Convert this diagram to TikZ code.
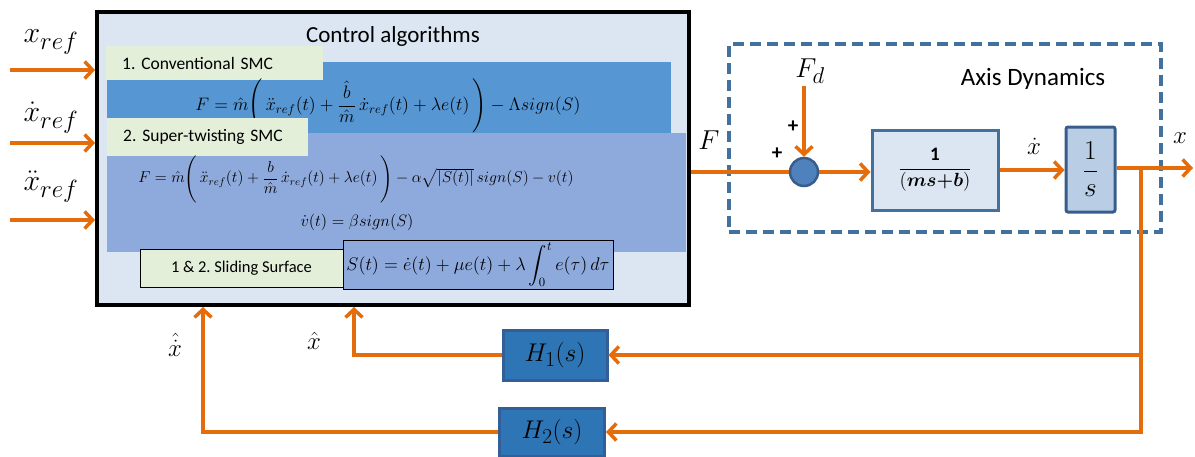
\documentclass[tikz,border=0pt]{standalone}
\usepackage{graphicx}
\usepackage{amsmath}
\usepackage{fontspec}
\setmainfont{Carlito}
\usetikzlibrary{arrows.meta}
\definecolor{bgblue}{RGB}{220,230,242}
\definecolor{bandA}{RGB}{86,150,211}
\definecolor{bandB}{RGB}{142,169,219}
\definecolor{lgreen}{RGB}{228,239,218}
\definecolor{orng}{RGB}{228,108,10}
\definecolor{dashB}{RGB}{65,113,156}
\definecolor{boxB}{RGB}{65,113,156}
\definecolor{iboxF}{RGB}{185,205,229}
\definecolor{iboxB}{RGB}{56,93,138}
\definecolor{hF}{RGB}{46,117,182}
\definecolor{hB}{RGB}{52,95,150}
\definecolor{cF}{RGB}{79,129,189}
\newcommand{\sbx}[2]{\scalebox{#1}{#2}}
\newcommand{\wbx}[2]{\resizebox{#1}{!}{#2}}
\begin{document}
\frenchspacing
\begin{tikzpicture}[x=1pt,y=-1pt,
  flow/.style={draw=orng, line width=3.5pt},
  arr/.style={flow, -{Straight Barb[length=8pt,width=17pt]}},
  band/.style={fill=#1, draw=none, inner sep=0pt},
  lbl/.style={fill=lgreen, anchor=west, align=left, inner xsep=16pt, inner ysep=0pt, font=\fontsize{17.5}{20}\selectfont},
  eq/.style={font=\fontsize{14.4}{17}\selectfont, inner sep=0pt},
  big/.style={font=\fontsize{24.88}{28}\selectfont, inner sep=0pt},
  blk/.style={line width=3pt, inner sep=0pt},
  plus/.style={font=\fontsize{21}{24}\selectfont\bfseries, inner sep=0pt}
]
\useasboundingbox (0,0) rectangle (1195,456);

% control algorithms box
\node[draw=black, line width=4pt, fill=bgblue, minimum width=592pt, minimum height=293pt, inner sep=0pt] (ctrl) at (393,158.5) {};
\node[font=\fontsize{23}{26}\selectfont] (title) at (393,36) {Control algorithms};
\node[band=bandA, minimum width=564pt, minimum height=71pt] (bandA) at (389,97.5) {};
\node[band=bandB, minimum width=579pt, minimum height=119pt] (bandB) at (396.5,192.5) {};
\node[lbl, text width=185pt, minimum height=34pt] (l1) at (106,63) {1. Conventional SMC};
\node[eq] (f1) at (388,106) {\wbx{385pt}{$F=\hat{m}\Biggl(\,\ddot{x}_{ref}(t)+\dfrac{\hat{b}}{\hat{m}}\,\dot{x}_{ref}(t)+\lambda e(t)\,\Biggr)-\Lambda sign(S)$}};
\node[lbl, text width=169pt, minimum height=38pt] (l2) at (107,137) {2. Super-twisting SMC};
\node[eq] (f2) at (356,179) {\wbx{435pt}{$F=\hat{m}\Biggl(\,\ddot{x}_{ref}(t)+\dfrac{b}{\hat{m}}\,\dot{x}_{ref}(t)+\lambda e(t)\,\Biggr)-\alpha\sqrt{|S(t)|}\,sign(S)-v(t)$}};
\node[eq] (f3) at (357,222) {\wbx{113pt}{$\dot{v}(t)=\beta sign(S)$}};
\node[draw=black, line width=0.8pt, fill=lgreen, minimum width=203pt, minimum height=38pt, inner sep=0pt, font=\fontsize{16.5}{19}\selectfont] (l3) at (241.5,268) {1 \& 2. Sliding Surface};
\node[draw=black, line width=0.8pt, fill=bandB, minimum width=270pt, minimum height=49pt, inner sep=0pt, font=\fontsize{14.4}{17}\selectfont] (f4) at (478,264.5) {\wbx{263pt}{$S(t)=\dot{e}(t)+\mu e(t)+\lambda\displaystyle\int_0^t e(\tau)\,d\tau$}};

% inputs
\coordinate (in1) at (10,70);
\coordinate (in2) at (10,143);
\coordinate (in3) at (10,220);
\draw[arr] (in1) -- (in1 -| ctrl.west);
\draw[arr] (in2) -- (in2 -| ctrl.west);
\draw[arr] (in3) -- (in3 -| ctrl.west);
\node[big] (lx1) at (51,42) {\sbx{1.2}{$x_{ref}$}};
\node[big] (lx2) at (51,118) {\sbx{1.2}{$\dot{x}_{ref}$}};
\node[big] (lx3) at (51,187) {\sbx{1.2}{$\ddot{x}_{ref}$}};

% axis dynamics
\node[draw=dashB, line width=3.5pt, dash pattern=on 11pt off 6pt, minimum width=432pt, minimum height=188pt, inner sep=0pt] (axis) at (945,138) {};
\node[font=\fontsize{25}{28}\selectfont] (axt) at (1033,79) {Axis Dynamics};
\node[circle, draw=iboxB, line width=2.5pt, fill=cF, minimum size=28pt, inner sep=0pt] (sum) at (804,172) {};
\node[blk, draw=boxB, fill=bgblue, minimum width=126pt, minimum height=80pt, font=\fontsize{14.4}{17}\selectfont] (plant) at (935,170) {\wbx{74pt}{$\dfrac{\mathbf{1}}{(\boldsymbol{ms{+}b})}$}};
\node[blk, draw=iboxB, fill=iboxF, rounded corners=2pt, minimum width=49pt, minimum height=85pt, font=\fontsize{24.88}{28}\selectfont] (ibox) at (1090.5,169.5) {\sbx{1.1}{$\dfrac{1}{s}$}};
\coordinate (fd) at (804,86);
\coordinate (out) at (1193,168);
\coordinate (br) at (1141,168);
\draw[flow] (ctrl.east |- sum) -- (sum.west);
\draw[arr] (fd) -- (sum.north);
\draw[arr] (sum.east) -- (sum.east -| plant.west);
\draw[arr] (plant.east) -- (plant.east -| ibox.west);
\draw[arr] (ibox.east |- out) -- (out);
\node[big] (lF) at (709,140) {\sbx{1.1}{$F$}};
\node[big] (lFd) at (810,71) {\sbx{1.1}{$F_d$}};
\node[plus] (p1) at (793,127) {+};
\node[plus] (p2) at (777,154) {+};
\node[big] (lxd) at (1034,146) {$\dot{x}$};
\node[big] (lxo) at (1180,138) {$x$};

% feedback
\node[blk, draw=hB, fill=hF, minimum width=104pt, minimum height=50pt, font=\fontsize{24.88}{28}\selectfont] (H1) at (555,355) {\wbx{61pt}{$H_1(s)$}};
\node[blk, draw=hB, fill=hF, minimum width=105pt, minimum height=48pt, font=\fontsize{24.88}{28}\selectfont] (H2) at (552,432) {\wbx{61pt}{$H_2(s)$}};
\draw[flow] (br) -- (br |- H1);
\draw[arr] (br |- H1) -- (H1.east);
\draw[arr] (br |- H1) -- (br |- H2) -- (H2.east);
\coordinate (c1) at (354,355);
\coordinate (c2) at (203,432);
\draw[arr] (H1.west) -- (c1) -- (c1 |- ctrl.south);
\draw[arr] (H2.west) -- (c2) -- (c2 |- ctrl.south);
\node[big] (lh1) at (314,341) {$\hat{x}$};
\node[big] (lh2) at (175,345) {$\hat{\dot{x}}$};
\end{tikzpicture}
\end{document}
